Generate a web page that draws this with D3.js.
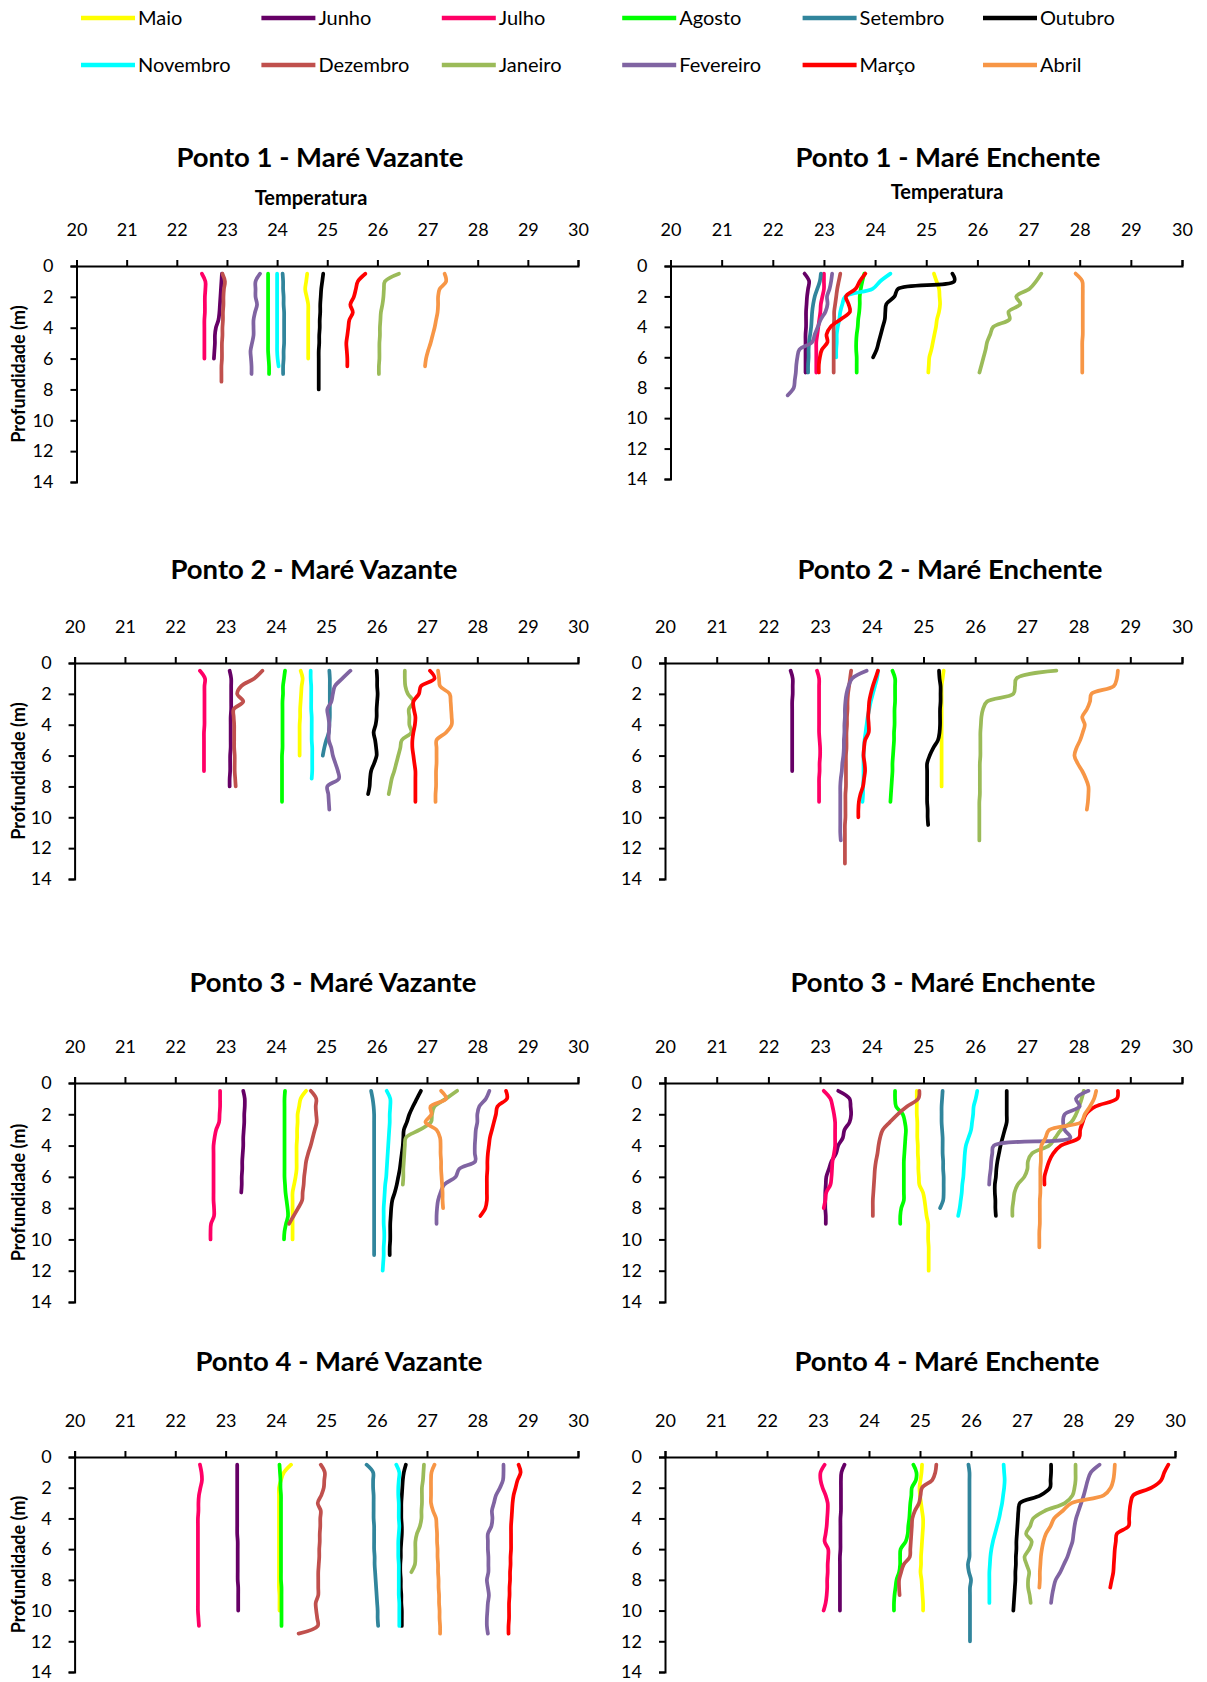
<!DOCTYPE html>
<html>
<head>
<meta charset="utf-8">
<script src="https://cdn.jsdelivr.net/npm/d3@7"></script>
<style>
body { margin: 0; background: #fff; }
svg { display: block; font-family: Lato, "Open Sans", sans-serif; }
.axis { color: #000; }
.axis path, .axis line { stroke-width: 2; }
.axis text { font-size: 18px; fill: #000; font-family: Lato, "Open Sans", sans-serif; }
.title { font-size: 27.5px; font-weight: bold; }
.temp-label { font-size: 20px; font-weight: bold; }
.depth-label { font-size: 18px; font-weight: bold; }
.legend text { font-size: 20px; }
.profile { fill: none; stroke-width: 3.75; stroke-linecap: round; stroke-linejoin: round; }
</style>
</head>
<body>
<svg width="1207" height="1682"></svg>
<script>
var months = ['Maio', 'Junho', 'Julho', 'Agosto', 'Setembro', 'Outubro', 'Novembro', 'Dezembro', 'Janeiro', 'Fevereiro', 'Março', 'Abril'];
var monthColors = ['#FFFF00', '#660066', '#FF0066', '#00FF00', '#31859C', '#000000', '#00FFFF', '#C0504D', '#9BBB59', '#8064A2', '#FF0000', '#F79646'];

var depths = [0.5, 1, 1.5, 2, 2.5, 3, 3.5, 4, 4.5, 5, 5.5, 6, 6.5, 7, 7.5, 8, 8.5, 9, 9.5, 10, 10.5, 11, 11.5, 12, 12.5, 13];
var tempTicks = [20, 21, 22, 23, 24, 25, 26, 27, 28, 29, 30];
var depthTicks = [0, 2, 4, 6, 8, 10, 12, 14];

var panelTitles = [
  'Ponto 1 - Maré Vazante', 'Ponto 1 - Maré Enchente',
  'Ponto 2 - Maré Vazante', 'Ponto 2 - Maré Enchente',
  'Ponto 3 - Maré Vazante', 'Ponto 3 - Maré Enchente',
  'Ponto 4 - Maré Vazante', 'Ponto 4 - Maré Enchente'
];

// temperatures (°C) per month, read at every 0.5 m of depth
var ponto1Vazante = [
  [24.60, 24.58, 24.56, 24.59, 24.62, 24.62, 24.62, 24.62, 24.62, 24.62, 24.62, 24.62],
  [22.90, 22.89, 22.88, 22.87, 22.86, 22.85, 22.83, 22.78, 22.76, 22.76, 22.75, 22.74],
  [22.50, 22.57, 22.57, 22.56, 22.56, 22.56, 22.55, 22.55, 22.55, 22.55, 22.55, 22.55],
  [23.82, 23.82, 23.82, 23.82, 23.82, 23.82, 23.82, 23.82, 23.82, 23.82, 23.82, 23.83, 23.84, 23.84],
  [24.11, 24.12, 24.12, 24.13, 24.13, 24.14, 24.14, 24.14, 24.14, 24.14, 24.13, 24.13, 24.12, 24.12],
  [24.92, 24.90, 24.88, 24.87, 24.86, 24.86, 24.85, 24.85, 24.84, 24.84, 24.83, 24.83, 24.83, 24.83, 24.83, 24.83],
  [24.00, 24.00, 24.00, 24.00, 24.00, 24.00, 24.00, 24.00, 24.00, 24.00, 24.00, 24.01, 24.03],
  [22.91, 22.96, 22.94, 22.93, 22.93, 22.92, 22.92, 22.91, 22.91, 22.90, 22.90, 22.90, 22.89, 22.89, 22.89],
  [26.43, 26.15, 26.13, 26.12, 26.10, 26.07, 26.06, 26.05, 26.05, 26.04, 26.04, 26.04, 26.03, 26.03],
  [23.66, 23.57, 23.57, 23.57, 23.60, 23.56, 23.53, 23.53, 23.53, 23.50, 23.47, 23.48, 23.49, 23.49],
  [25.76, 25.61, 25.57, 25.53, 25.46, 25.51, 25.44, 25.42, 25.40, 25.38, 25.39, 25.40, 25.40],
  [27.34, 27.37, 27.24, 27.21, 27.21, 27.20, 27.17, 27.14, 27.10, 27.06, 27.01, 26.97, 26.95]
];
var ponto1Enchente = [
  [25.15, 25.20, 25.25, 25.26, 25.27, 25.25, 25.21, 25.19, 25.16, 25.13, 25.10, 25.06, 25.05, 25.04],
  [22.62, 22.71, 22.69, 22.67, 22.66, 22.65, 22.65, 22.65, 22.64, 22.64, 22.64, 22.64, 22.64, 22.64],
  [23.00, 23.00, 23.00, 22.97, 22.94, 22.93, 22.91, 22.89, 22.87, 22.85, 22.85, 22.85, 22.85, 22.85],
  [23.79, 23.75, 23.72, 23.70, 23.70, 23.69, 23.67, 23.66, 23.64, 23.63, 23.63, 23.64, 23.64, 23.64],
  [22.94, 22.92, 22.87, 22.82, 22.79, 22.77, 22.76, 22.75, 22.73, 22.71, 22.70, 22.70, 22.69, 22.69],
  [25.51, 25.55, 24.45, 24.38, 24.22, 24.20, 24.19, 24.15, 24.11, 24.07, 24.03, 23.96],
  [24.30, 24.10, 23.95, 23.42, 23.36, 23.32, 23.30, 23.27, 23.25, 23.25, 23.24, 23.24],
  [23.32, 23.29, 23.26, 23.24, 23.22, 23.20, 23.20, 23.19, 23.19, 23.19, 23.19, 23.19, 23.19, 23.19],
  [27.25, 27.15, 27.02, 26.76, 26.84, 26.61, 26.63, 26.31, 26.25, 26.19, 26.16, 26.12, 26.08, 26.04],
  [23.16, 23.14, 23.11, 23.06, 23.07, 23.03, 22.94, 22.88, 22.82, 22.77, 22.52, 22.48, 22.46, 22.45, 22.43, 22.41, 22.29],
  [23.81, 23.70, 23.62, 23.43, 23.48, 23.51, 23.33, 23.13, 23.05, 23.07, 22.96, 22.92, 22.90, 22.90],
  [27.92, 28.05, 28.06, 28.06, 28.06, 28.06, 28.06, 28.06, 28.06, 28.05, 28.05, 28.05, 28.05, 28.05]
];
var ponto2Vazante = [
  [24.49, 24.53, 24.51, 24.50, 24.49, 24.48, 24.48, 24.47, 24.47, 24.47, 24.47, 24.47],
  [23.08, 23.11, 23.11, 23.11, 23.11, 23.11, 23.10, 23.10, 23.10, 23.10, 23.10, 23.09, 23.09, 23.09, 23.08, 23.08],
  [22.49, 22.59, 22.58, 22.58, 22.58, 22.58, 22.58, 22.58, 22.57, 22.57, 22.57, 22.57, 22.57, 22.57],
  [24.18, 24.16, 24.14, 24.14, 24.13, 24.13, 24.13, 24.13, 24.13, 24.13, 24.13, 24.12, 24.12, 24.12, 24.12, 24.12, 24.12, 24.12],
  [25.06, 25.07, 25.07, 25.07, 25.07, 25.07, 25.07, 25.06, 25.05, 25.00, 24.96, 24.93],
  [26.00, 26.01, 26.01, 26.02, 26.01, 26.00, 26.00, 25.98, 25.94, 25.97, 25.99, 26.00, 25.95, 25.89, 25.87, 25.86, 25.83],
  [24.69, 24.69, 24.70, 24.70, 24.70, 24.70, 24.71, 24.71, 24.71, 24.71, 24.72, 24.72, 24.72, 24.72, 24.71],
  [23.73, 23.57, 23.31, 23.23, 23.35, 23.16, 23.16, 23.17, 23.17, 23.17, 23.17, 23.18, 23.18, 23.18, 23.19, 23.20],
  [26.56, 26.56, 26.57, 26.62, 26.73, 26.64, 26.65, 26.65, 26.69, 26.50, 26.47, 26.43, 26.39, 26.35, 26.30, 26.27, 26.24],
  [25.48, 25.32, 25.17, 25.13, 25.10, 25.02, 25.04, 25.06, 25.05, 25.05, 25.10, 25.13, 25.18, 25.23, 25.25, 25.02, 25.04, 25.05, 25.06],
  [27.06, 27.15, 26.88, 26.84, 26.73, 26.74, 26.77, 26.76, 26.73, 26.71, 26.71, 26.73, 26.75, 26.77, 26.77, 26.77, 26.77, 26.77],
  [27.22, 27.24, 27.26, 27.45, 27.47, 27.48, 27.49, 27.49, 27.38, 27.19, 27.19, 27.19, 27.19, 27.18, 27.18, 27.18, 27.17, 27.17]
];
var ponto2Enchente = [
  [25.39, 25.37, 25.35, 25.35, 25.35, 25.35, 25.35, 25.35, 25.35, 25.35, 25.35, 25.35, 25.35, 25.35, 25.35, 25.35],
  [22.43, 22.47, 22.47, 22.47, 22.46, 22.46, 22.46, 22.46, 22.46, 22.46, 22.46, 22.46, 22.46, 22.46],
  [22.94, 22.98, 22.98, 22.98, 22.98, 22.98, 22.98, 22.98, 22.98, 22.99, 23.00, 23.00, 22.99, 22.99, 22.98, 22.98, 22.98, 22.98],
  [24.40, 24.45, 24.45, 24.45, 24.45, 24.44, 24.44, 24.44, 24.43, 24.43, 24.42, 24.41, 24.40, 24.40, 24.39, 24.38, 24.37, 24.36],
  [],
  [25.30, 25.31, 25.33, 25.33, 25.33, 25.32, 25.32, 25.32, 25.31, 25.28, 25.19, 25.12, 25.07, 25.07, 25.07, 25.07, 25.07, 25.07, 25.08, 25.08, 25.09],
  [24.12, 24.10, 24.06, 24.02, 23.98, 23.95, 23.92, 23.90, 23.88, 23.86, 23.85, 23.84, 23.84, 23.84, 23.84, 23.83, 23.83, 23.82],
  [23.60, 23.58, 23.56, 23.54, 23.53, 23.53, 23.52, 23.52, 23.51, 23.51, 23.51, 23.50, 23.50, 23.50, 23.50, 23.50, 23.49, 23.49, 23.49, 23.49, 23.48, 23.48, 23.48, 23.48, 23.48, 23.48],
  [27.57, 26.80, 26.77, 26.74, 26.23, 26.15, 26.12, 26.11, 26.10, 26.10, 26.10, 26.10, 26.09, 26.09, 26.09, 26.09, 26.09, 26.08, 26.08, 26.08, 26.08, 26.08, 26.08],
  [23.90, 23.62, 23.55, 23.51, 23.49, 23.48, 23.48, 23.47, 23.47, 23.46, 23.46, 23.45, 23.43, 23.42, 23.40, 23.39, 23.39, 23.39, 23.39, 23.39, 23.39, 23.39, 23.40],
  [24.12, 24.07, 24.02, 23.98, 23.95, 23.94, 23.93, 23.94, 23.94, 23.87, 23.85, 23.84, 23.86, 23.87, 23.85, 23.83, 23.78, 23.75, 23.74, 23.74],
  [28.76, 28.74, 28.68, 28.25, 28.22, 28.16, 28.07, 28.12, 28.08, 28.03, 27.96, 27.92, 27.98, 28.07, 28.14, 28.19, 28.19, 28.18, 28.16]
];
var ponto3Vazante = [
  [24.60, 24.49, 24.46, 24.43, 24.43, 24.42, 24.42, 24.41, 24.41, 24.41, 24.41, 24.39, 24.36, 24.33, 24.33, 24.33, 24.33, 24.33, 24.33, 24.33],
  [23.35, 23.38, 23.38, 23.37, 23.37, 23.36, 23.35, 23.35, 23.34, 23.33, 23.33, 23.32, 23.32, 23.31],
  [22.89, 22.89, 22.89, 22.88, 22.87, 22.81, 22.78, 22.76, 22.76, 22.76, 22.76, 22.76, 22.76, 22.76, 22.76, 22.77, 22.77, 22.71, 22.70, 22.70],
  [24.18, 24.17, 24.17, 24.17, 24.17, 24.17, 24.17, 24.17, 24.17, 24.17, 24.17, 24.17, 24.18, 24.19, 24.21, 24.23, 24.24, 24.20, 24.17, 24.16],
  [25.89, 25.92, 25.94, 25.95, 25.95, 25.95, 25.95, 25.95, 25.95, 25.95, 25.95, 25.95, 25.95, 25.95, 25.95, 25.95, 25.95, 25.95, 25.95, 25.95, 25.95, 25.95],
  [26.88, 26.80, 26.72, 26.65, 26.60, 26.54, 26.53, 26.52, 26.50, 26.48, 26.46, 26.43, 26.40, 26.36, 26.31, 26.29, 26.28, 26.27, 26.27, 26.27, 26.26, 26.26],
  [26.20, 26.27, 26.27, 26.26, 26.26, 26.25, 26.24, 26.23, 26.22, 26.21, 26.20, 26.19, 26.17, 26.16, 26.15, 26.14, 26.14, 26.14, 26.15, 26.15, 26.14, 26.14, 26.13, 26.12],
  [24.69, 24.80, 24.79, 24.80, 24.81, 24.77, 24.73, 24.69, 24.64, 24.60, 24.58, 24.56, 24.55, 24.53, 24.52, 24.44, 24.35, 24.26],
  [27.60, 27.38, 27.15, 27.10, 27.08, 26.85, 26.58, 26.56, 26.55, 26.54, 26.53, 26.53, 26.52],
  [28.24, 28.17, 28.04, 28.00, 28.00, 27.97, 27.96, 27.95, 27.95, 27.96, 27.64, 27.57, 27.34, 27.27, 27.22, 27.20, 27.19, 27.19],
  [28.57, 28.59, 28.40, 28.37, 28.33, 28.29, 28.25, 28.23, 28.21, 28.20, 28.20, 28.19, 28.19, 28.19, 28.19, 28.16, 28.06],
  [27.28, 27.38, 27.07, 27.09, 26.97, 27.19, 27.26, 27.27, 27.27, 27.28, 27.28, 27.29, 27.30, 27.31, 27.31, 27.32]
];
var ponto3Enchente = [
  [24.87, 24.87, 24.87, 24.87, 24.88, 24.88, 24.88, 24.89, 24.89, 24.90, 24.90, 24.91, 24.92, 24.99, 25.02, 25.04, 25.06, 25.09, 25.09, 25.09, 25.10, 25.10, 25.10, 25.10],
  [23.35, 23.57, 23.59, 23.60, 23.57, 23.47, 23.44, 23.35, 23.31, 23.22, 23.17, 23.12, 23.11, 23.10, 23.10, 23.10, 23.11, 23.11],
  [23.07, 23.20, 23.24, 23.27, 23.29, 23.29, 23.29, 23.29, 23.27, 23.24, 23.23, 23.22, 23.20, 23.12, 23.10, 23.07],
  [24.45, 24.45, 24.47, 24.60, 24.64, 24.66, 24.65, 24.64, 24.63, 24.62, 24.62, 24.62, 24.62, 24.62, 24.62, 24.57, 24.55, 24.55],
  [25.37, 25.36, 25.35, 25.35, 25.35, 25.36, 25.37, 25.37, 25.37, 25.38, 25.38, 25.39, 25.39, 25.39, 25.38, 25.32],
  [26.61, 26.61, 26.61, 26.61, 26.61, 26.57, 26.53, 26.49, 26.46, 26.43, 26.41, 26.40, 26.38, 26.38, 26.39, 26.39, 26.40],
  [26.04, 26.01, 25.97, 25.96, 25.94, 25.92, 25.87, 25.82, 25.80, 25.79, 25.78, 25.77, 25.75, 25.74, 25.72, 25.70, 25.67],
  [24.92, 24.90, 24.68, 24.50, 24.35, 24.21, 24.16, 24.13, 24.11, 24.08, 24.06, 24.05, 24.04, 24.03, 24.02, 24.02, 24.02],
  [28.10, 28.06, 28.01, 27.95, 27.86, 27.66, 27.55, 27.43, 27.10, 27.02, 27.01, 26.95, 26.82, 26.76, 26.74, 26.72, 26.72],
  [28.19, 27.95, 28.02, 27.73, 27.70, 27.73, 27.84, 26.36, 26.33, 26.31, 26.30, 26.28, 26.27],
  [28.76, 28.74, 28.33, 28.14, 28.08, 28.03, 28.01, 27.66, 27.51, 27.43, 27.38, 27.34, 27.34],
  [28.34, 28.30, 28.22, 28.12, 28.05, 27.43, 27.36, 27.28, 27.27, 27.27, 27.26, 27.26, 27.26, 27.26, 27.25, 27.25, 27.25, 27.25, 27.24, 27.24, 27.24]
];
var ponto4Vazante = [
  [24.30, 24.16, 24.10, 24.06, 24.06, 24.06, 24.06, 24.06, 24.06, 24.06, 24.06, 24.06, 24.06, 24.06, 24.06, 24.06, 24.06, 24.07, 24.07, 24.07],
  [23.23, 23.23, 23.23, 23.23, 23.23, 23.23, 23.23, 23.23, 23.23, 23.23, 23.24, 23.24, 23.24, 23.24, 23.24, 23.24, 23.25, 23.25, 23.25, 23.25],
  [22.49, 22.52, 22.53, 22.50, 22.47, 22.46, 22.46, 22.45, 22.45, 22.45, 22.45, 22.45, 22.45, 22.45, 22.45, 22.45, 22.45, 22.45, 22.45, 22.45, 22.46, 22.47],
  [24.07, 24.08, 24.09, 24.09, 24.10, 24.10, 24.10, 24.10, 24.10, 24.10, 24.10, 24.10, 24.10, 24.10, 24.10, 24.10, 24.11, 24.11, 24.11, 24.11, 24.11, 24.11],
  [25.80, 25.93, 25.93, 25.93, 25.94, 25.94, 25.94, 25.94, 25.95, 25.95, 25.95, 25.95, 25.96, 25.96, 25.97, 25.98, 25.99, 26.00, 26.01, 26.02, 26.02, 26.03],
  [26.58, 26.54, 26.52, 26.51, 26.50, 26.49, 26.49, 26.49, 26.50, 26.50, 26.49, 26.48, 26.48, 26.47, 26.47, 26.48, 26.48, 26.49, 26.49, 26.50, 26.50, 26.50],
  [26.39, 26.45, 26.44, 26.43, 26.43, 26.44, 26.44, 26.44, 26.45, 26.44, 26.43, 26.43, 26.43, 26.44, 26.44, 26.44, 26.44, 26.44, 26.45, 26.45, 26.45, 26.45],
  [24.89, 24.97, 24.96, 24.95, 24.90, 24.83, 24.89, 24.88, 24.88, 24.87, 24.87, 24.86, 24.86, 24.85, 24.84, 24.84, 24.84, 24.84, 24.79, 24.80, 24.82, 24.83, 24.45],
  [26.94, 26.93, 26.92, 26.90, 26.90, 26.90, 26.89, 26.89, 26.86, 26.80, 26.77, 26.77, 26.77, 26.76, 26.69],
  [28.52, 28.52, 28.51, 28.45, 28.37, 28.33, 28.29, 28.30, 28.28, 28.21, 28.21, 28.21, 28.22, 28.22, 28.22, 28.19, 28.21, 28.23, 28.21, 28.20, 28.19, 28.19, 28.21],
  [28.82, 28.86, 28.80, 28.76, 28.72, 28.70, 28.69, 28.68, 28.67, 28.67, 28.67, 28.67, 28.66, 28.66, 28.65, 28.65, 28.64, 28.64, 28.63, 28.63, 28.63, 28.62, 28.62],
  [27.15, 27.09, 27.08, 27.08, 27.08, 27.08, 27.12, 27.18, 27.19, 27.20, 27.20, 27.21, 27.21, 27.22, 27.22, 27.23, 27.23, 27.24, 27.24, 27.25, 27.25, 27.26, 27.26]
];
var ponto4Enchente = [
  [25.04, 25.03, 25.01, 24.99, 25.00, 25.02, 25.04, 25.06, 25.06, 25.05, 25.04, 25.03, 25.02, 25.02, 25.01, 25.03, 25.04, 25.05, 25.06, 25.06],
  [23.52, 23.46, 23.45, 23.45, 23.45, 23.45, 23.45, 23.44, 23.44, 23.44, 23.44, 23.44, 23.43, 23.43, 23.43, 23.43, 23.43, 23.43, 23.43, 23.43],
  [23.13, 23.05, 23.05, 23.09, 23.15, 23.19, 23.19, 23.18, 23.17, 23.15, 23.13, 23.20, 23.20, 23.19, 23.19, 23.18, 23.18, 23.17, 23.15, 23.11],
  [24.87, 24.93, 24.92, 24.84, 24.83, 24.81, 24.80, 24.79, 24.77, 24.76, 24.72, 24.62, 24.61, 24.61, 24.59, 24.54, 24.52, 24.50, 24.49, 24.49],
  [25.95, 25.97, 25.97, 25.97, 25.97, 25.97, 25.97, 25.97, 25.97, 25.97, 25.97, 25.97, 25.97, 25.94, 25.96, 26.00, 25.98, 25.98, 25.98, 25.98, 25.98, 25.98, 25.98, 25.98],
  [27.57, 27.57, 27.56, 27.55, 27.36, 26.96, 26.93, 26.92, 26.91, 26.90, 26.89, 26.89, 26.88, 26.88, 26.87, 26.87, 26.86, 26.85, 26.84, 26.83],
  [26.64, 26.65, 26.66, 26.65, 26.63, 26.61, 26.58, 26.55, 26.51, 26.47, 26.43, 26.40, 26.38, 26.37, 26.36, 26.36, 26.36, 26.36, 26.36],
  [25.32, 25.30, 25.24, 25.04, 25.01, 24.98, 24.90, 24.85, 24.84, 24.83, 24.82, 24.81, 24.80, 24.68, 24.63, 24.59, 24.59, 24.60],
  [28.05, 28.05, 28.05, 28.03, 27.99, 27.84, 27.45, 27.22, 27.16, 27.08, 27.19, 27.14, 27.05, 27.09, 27.14, 27.12, 27.12, 27.15, 27.17],
  [28.52, 28.35, 28.29, 28.25, 28.21, 28.16, 28.11, 28.06, 28.03, 28.01, 27.99, 27.94, 27.89, 27.82, 27.75, 27.66, 27.62, 27.59, 27.57],
  [29.87, 29.79, 29.73, 29.54, 29.18, 29.13, 29.11, 29.10, 29.09, 28.86, 28.84, 28.82, 28.81, 28.80, 28.79, 28.76, 28.73],
  [28.82, 28.81, 28.79, 28.74, 28.60, 27.97, 27.80, 27.63, 27.56, 27.47, 27.42, 27.39, 27.37, 27.36, 27.35, 27.35, 27.34]
];

var panelData = [ponto1Vazante, ponto1Enchente, ponto2Vazante, ponto2Enchente,
  ponto3Vazante, ponto3Enchente, ponto4Vazante, ponto4Enchente];

// where each small chart sits on the page
var panels = [
  {left: 76.5, right: 578, top: 266, bottom: 482, titleX: 320, titleY: 167, tempX: 311, tempY: 205},
  {left: 670.5, right: 1182, top: 266, bottom: 479, titleX: 948, titleY: 167, tempX: 947, tempY: 199},
  {left: 74.6, right: 578, top: 663, bottom: 879, titleX: 314, titleY: 579},
  {left: 665, right: 1182, top: 663, bottom: 879, titleX: 950, titleY: 579},
  {left: 74.6, right: 578, top: 1083, bottom: 1302, titleX: 333, titleY: 992},
  {left: 665, right: 1182, top: 1083, bottom: 1302, titleX: 943, titleY: 992},
  {left: 74.6, right: 578, top: 1457, bottom: 1672, titleX: 339, titleY: 1371},
  {left: 665, right: 1175, top: 1457, bottom: 1672, titleX: 947, titleY: 1371}
];

var svg = d3.select('svg');

// legend
var legendX = 81;
var legendStep = 180.4;
var legendRowY = [18, 65];
var legend = svg.append('g').attr('class', 'legend');
months.forEach(function(m, i) {
  var lx = legendX + (i % 6) * legendStep;
  var ly = legendRowY[Math.floor(i / 6)];
  legend.append('line')
    .attr('x1', lx).attr('y1', ly)
    .attr('x2', lx + 54).attr('y2', ly)
    .attr('stroke', monthColors[i])
    .attr('stroke-width', 4.5);
  legend.append('text')
    .attr('x', lx + 57)
    .attr('y', ly + 7)
    .text(m);
});

panels.forEach(function(p, k) {
  var x = d3.scaleLinear().domain([20, 30]).range([p.left, p.right]);
  var y = d3.scaleLinear().domain([0, 14]).range([p.top, p.bottom]);

  svg.append('text')
    .attr('class', 'title')
    .attr('x', p.titleX)
    .attr('y', p.titleY)
    .attr('text-anchor', 'middle')
    .text(panelTitles[k]);

  if (p.tempY) {
    svg.append('text')
      .attr('class', 'temp-label')
      .attr('x', p.tempX)
      .attr('y', p.tempY)
      .attr('text-anchor', 'middle')
      .text('Temperatura');
  }

  if (k % 2 === 0) {
    svg.append('text')
      .attr('class', 'depth-label')
      .attr('text-anchor', 'middle')
      .attr('dominant-baseline', 'central')
      .attr('transform', 'translate(18,' + ((p.top + p.bottom) / 2) + ') rotate(-90)')
      .text('Profundidade (m)');
  }

  var line = d3.line()
    .curve(d3.curveCatmullRom.alpha(0.5))
    .x(function(d) { return x(d[1]); })
    .y(function(d) { return y(d[0]); });

  panelData[k].forEach(function(temps, i) {
    if (!temps.length) return;
    var pts = temps.map(function(t, j) { return [depths[j], t]; });
    svg.append('path')
      .attr('class', 'profile')
      .attr('stroke', monthColors[i])
      .attr('d', line(pts));
  });

  svg.append('g')
    .attr('class', 'axis')
    .attr('transform', 'translate(0,' + p.top + ')')
    .call(d3.axisTop(x).tickValues(tempTicks).tickSize(6).tickPadding(24).tickFormat(d3.format('d')));

  svg.append('g')
    .attr('class', 'axis')
    .attr('transform', 'translate(' + p.left + ',0)')
    .call(d3.axisLeft(y).tickValues(depthTicks).tickSize(6).tickPadding(17).tickFormat(d3.format('d')));
});
</script>
</body>
</html>
